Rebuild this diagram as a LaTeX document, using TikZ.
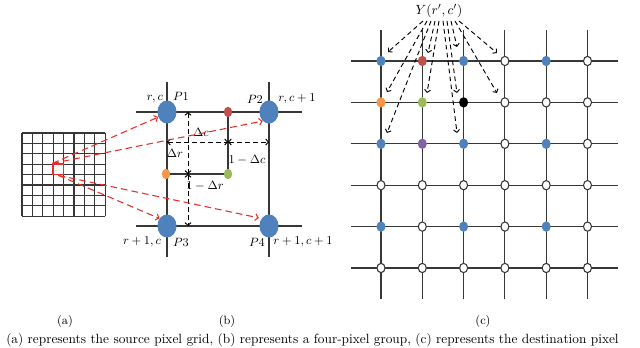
\documentclass[tikz,border=0pt]{standalone}
\usepackage{amsmath}
\usepackage{tikz}
\usetikzlibrary{
	arrows.meta,
	shapes.geometric
}
\definecolor{PixBlue}{RGB}{79,129,189}
\definecolor{PixRed}{RGB}{192,80,77}
\definecolor{PixOrange}{RGB}{247,150,70}
\definecolor{PixGreen}{RGB}{155,187,89}
\definecolor{PixPurple}{RGB}{128,100,162}
\definecolor{LineGray}{RGB}{55,55,55}
\definecolor{ArrowRed}{RGB}{235,45,40}

\tikzset{
	gridline/.style={LineGray, line width=0.8pt},
	pix/.style={ellipse, inner sep=0pt, minimum width=6.8pt, minimum height=7.8pt},
	pixB/.style={pix, fill=PixBlue},
	pixR/.style={pix, fill=PixRed},
	pixO/.style={pix, fill=PixOrange},
	pixG/.style={pix, fill=PixGreen},
	pixK/.style={pix, fill=black},
	pixV/.style={pix, fill=PixPurple},
	pixW/.style={pix, draw=LineGray, line width=0.8pt, fill=white, minimum width=6pt, minimum height=7pt},
	corner/.style={ellipse, fill=PixBlue, inner sep=0pt, minimum width=14.3pt, minimum height=17.3pt},
	mid/.style={ellipse, inner sep=0pt, minimum width=6.3pt, minimum height=7.8pt},
	dim/.style={dash pattern=on 3.5pt off 2.5pt, line width=0.7pt, >={Straight Barb[length=2pt,width=4.5pt]}, <->},
	fan/.style={dash pattern=on 3.5pt off 2.5pt, line width=0.7pt, -{Straight Barb[length=2pt,width=4.5pt]}},
	map/.style={ArrowRed, dash pattern=on 5pt off 3pt, line width=0.8pt, -{Straight Barb[length=2.2pt,width=5pt]}}
}

\begin{document}
\begin{tikzpicture}[x=0.75pt, y=-0.75pt, font=\small]
	\useasboundingbox (0,0) rectangle (640,348);
	
	% (a) source pixel grid
	\foreach \k in {0,...,8} {
		\draw[gridline] (22+10.4*\k,133) -- (22+10.4*\k,216.2);
		\draw[gridline] (22,133+10.4*\k) -- (105.2,133+10.4*\k);
	}
	\node[draw=ArrowRed, line width=1.2pt, minimum size=7.8pt, inner sep=0pt] (src) at (58.4,169.4) {};
	
	% (b) four-pixel group
	\draw[gridline] (136,112) -- (302,112);
	\draw[gridline] (136,226) -- (302,226);
	\draw[gridline] (167,82) -- (167,257);
	\draw[gridline] (269,82) -- (269,257);
	
	\node[corner] (P1) at (167,112) {};
	\node[corner] (P2) at (269,112) {};
	\node[corner] (P3) at (167,226) {};
	\node[corner] (P4) at (269,226) {};
	
	\node[mid, fill=PixRed] (mr) at (228,112) {};
	\node[mid, fill=PixOrange] (mo) at (166,174) {};
	\node[mid, fill=PixGreen] (mg) at (228,174) {};
	\draw[gridline] (mr) -- (mg);
	\draw[gridline] (mo) -- (mg);
	
	\coordinate (v0) at (188,112);
	\coordinate (v1) at (188,174);
	\coordinate (v2) at (188,226);
	\coordinate (h0) at (167,142);
	\coordinate (h1) at (228,142);
	\coordinate (h2) at (269,142);
	\draw[dim] (v0) -- (v1);
	\draw[dim] (v1) -- (v2);
	\draw[dim] (h0) -- (h1);
	\draw[dim] (h1) -- (h2);
	
	\node (lrc) at (155,99) {$r,c$};
	\node (lP1) at (181,96) {$P1$};
	\node (lP2) at (255,99) {$P2$};
	\node (lrc1) at (297,99) {$r,c+1$};
	\node (lr1c) at (142,242) {$r+1,c$};
	\node (lP3) at (181,242) {$P3$};
	\node (lP4) at (257,242) {$P4$};
	\node (lr1c1) at (303,242) {$r+1,c+1$};
	\node (ldc) at (201,132) {$\Delta c$};
	\node (ldr) at (175,153) {$\Delta r$};
	\node (ldc1) at (247,160) {$1-\Delta c$};
	\node (ldr1) at (205,186) {$1-\Delta r$};
	
	% mapping of the source pixel onto the four neighbours
	\draw[map] (src.north west) -- (P1.210);
	\draw[map] (src.north west) -- (P2.235);
	\draw[map] (src.south) -- (P3.135);
	\draw[map, shorten >=2pt] (src.south) -- (P4.135);
	
	% (c) destination pixel grid
	\foreach \i in {0,...,5} {
		\draw[gridline] (351,61+41.4*\i) -- (618,61+41.4*\i);
		\draw[gridline] (381+41.3*\i,30) -- (381+41.3*\i,299);
	}
	\foreach \row [count=\i from 0] in {{B,R,B,W,B,W},{O,G,K,W,W,W},{B,V,B,W,B,W},{W,W,W,W,W,W},{B,W,B,W,B,W},{W,W,W,W,W,W}}
		\foreach \c [count=\j from 0] in \row
			\node[pix\c] (d\i\j) at (381+41.3*\j,61+41.4*\i) {};
	
	\node[anchor=south, inner sep=2pt, font=\normalsize] (Y) at (439,21) {$Y(r',c')$};
	\coordinate (t1) at (388,52);
	\coordinate (t2) at (387,92);
	\coordinate (t3) at (387,133);
	\coordinate (t4) at (428,53);
	\coordinate (t5) at (427,93);
	\coordinate (t6) at (457,47);
	\coordinate (t7) at (457,93);
	\coordinate (t8) at (457,133);
	\coordinate (t9) at (497,53);
	\coordinate (t10) at (497,93);
	\foreach \dx/\tp in {-16/t1,-12/t2,-8/t3,-4/t4,0/t5,4/t8,8/t7,12/t6,16/t10,20/t9}
		\draw[fan] ([xshift=\dx*0.75pt]Y.south) -- (\tp);
	
	% captions
	\node (capa) at (65,321) {(a)};
	\node (capb) at (227,321) {(b)};
	\node (capc) at (483,321) {(c)};
	\node[anchor=base west, inner sep=0pt, font=\normalsize] (fig) at (6,344) {(a) represents the source pixel grid, (b) represents a four-pixel group, (c) represents the destination pixel};
\end{tikzpicture}
\end{document}
